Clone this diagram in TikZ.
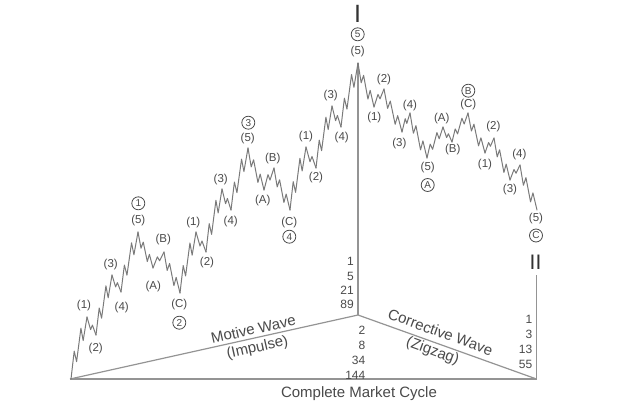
\documentclass[tikz,border=0pt]{standalone}
\usepackage{fontspec}
\setmainfont{Liberation Sans}
\definecolor{labc}{HTML}{4A4A4A}
\definecolor{wavec}{HTML}{7A7A7A}
\definecolor{framec}{HTML}{949494}
\begin{document}
\begin{tikzpicture}[x=1pt,y=-1pt,
 wave/.style={draw=wavec, line width=1pt, line join=round, line cap=round},
 frame/.style={draw=framec, line width=1.2pt},
 lab/.style={text=labc, inner sep=0pt, font=\fontsize{11.5}{11.5}\selectfont},
 circ/.style={draw=labc, circle, line width=0.8pt, inner sep=0pt, minimum size=13pt, text=labc, font=\fontsize{10}{10}\selectfont},
 num/.style={text=labc, inner sep=0pt, align=right},
 big/.style={text=labc, inner sep=0pt, font=\fontsize{15}{15}\selectfont},
 roman/.style={text=black!80, inner sep=0pt}]
\useasboundingbox[fill=white] (0,0) rectangle (640,415);

% frame
\coordinate (BL) at (70,379);
\coordinate (BR) at (536.5,379);
\coordinate (C) at (358,315);
\coordinate (Top) at (358,63);
\coordinate (RT) at (536.5,275);
\draw[frame] (BL) -- (BR);
\draw[frame] (BL) -- (C) -- (BR);
\draw[frame] (C) -- (Top);
\draw[frame] (BR) -- (RT);

% wave
\foreach \x/\y/\t [remember=\x as \px (initially 71), remember=\y as \py (initially 379)] in
 {87/317/5, 96/335/3, 112/275/5, 121/292/3, 138/232/5,
  153/268/5, 164/252/3, 180/293/5,
  196/232/5, 206/252/3, 222/189/5, 231/210/3, 248/148/5,
  264/190/5, 274/168/3, 290/210/5,
  306/147/5, 316/168/3, 332/106/5, 341/127/3, 358/63/5,
  374/107/5, 384/89/3, 402/132/5, 410/113/3, 427/158/5,
  443/127/5, 452/142/3, 468/113/5,
  485/153/5, 494/138/3, 510/180/5, 520/165/3, 537/210/5}
{
  \ifnum\t=5
    \draw[wave] (\px,\py) -- ({\px+0.2*(\x-\px)},{\py+0.45*(\y-\py)})
      -- ({\px+0.35*(\x-\px)},{\py+0.28*(\y-\py)})
      -- ({\px+0.62*(\x-\px)},{\py+0.82*(\y-\py)})
      -- ({\px+0.76*(\x-\px)},{\py+0.62*(\y-\py)})
      -- (\x,\y);
  \else
    \draw[wave] (\px,\py) -- ({\px+0.4*(\x-\px)},{\py+0.7*(\y-\py)})
      -- ({\px+0.6*(\x-\px)},{\py+0.45*(\y-\py)})
      -- (\x,\y);
  \fi
}

% labels, first impulse
\node[lab] (a1) at (84,306) {(1)};
\node[lab] (a2) at (95.7,348.3) {(2)};
\node[lab] (a3) at (110.7,265) {(3)};
\node[lab] (a4) at (121.7,307.3) {(4)};
\node[lab] (a5) at (138.3,220.7) {(5)};
\node[circ] (c1) at (138.3,203.3) {1};
\node[lab] (aA) at (153.3,286.7) {(A)};
\node[lab] (aB) at (163.3,240) {(B)};
\node[lab] (aC) at (179.3,305) {(C)};
\node[circ] (c2) at (179.3,322.7) {2};
% third
\node[lab] (b1) at (193.3,222.7) {(1)};
\node[lab] (b2) at (207,262.7) {(2)};
\node[lab] (b3) at (220.7,180) {(3)};
\node[lab] (b4) at (230.7,221.7) {(4)};
\node[lab] (b5) at (247.7,138.3) {(5)};
\node[circ] (c3) at (248.3,122.7) {3};
\node[lab] (bA) at (262.7,201) {(A)};
\node[lab] (bB) at (272.7,158.3) {(B)};
\node[lab] (bC) at (289.3,222.7) {(C)};
\node[circ] (c4) at (289.3,236.7) {4};
% fifth
\node[lab] (d1) at (306,136.5) {(1)};
\node[lab] (d2) at (316,178) {(2)};
\node[lab] (d3) at (330.7,96) {(3)};
\node[lab] (d4) at (341.7,137.3) {(4)};
\node[lab] (d5) at (357.7,51.7) {(5)};
\node[circ] (c5) at (357.7,34.3) {5};
\node[roman, font=\fontsize{25}{25}\selectfont] (rI) at (357.7,13.5) {I};
% corrective A
\node[lab] (e1) at (374.3,117.3) {(1)};
\node[lab] (e2) at (384,80) {(2)};
\node[lab] (e3) at (399.3,143.3) {(3)};
\node[lab] (e4) at (410,106) {(4)};
\node[lab] (e5) at (427.7,167.3) {(5)};
\node[circ] (cA) at (427.7,185) {A};
% B
\node[lab] (fA) at (441.7,118.3) {(A)};
\node[lab] (fB) at (452.7,150) {(B)};
\node[lab] (fC) at (468.3,105) {(C)};
\node[circ] (cB) at (468.3,90.7) {B};
% C
\node[lab] (g1) at (485,165) {(1)};
\node[lab] (g2) at (493.3,126.7) {(2)};
\node[lab] (g3) at (510,190) {(3)};
\node[lab] (g4) at (519.3,155) {(4)};
\node[lab] (g5) at (536,219) {(5)};
\node[circ] (cC) at (536,235.5) {C};
\node[roman, font=\fontsize{21}{21}\selectfont] (rII) at (535.5,262) {II};

% numbers
\node[num, anchor=north east, font=\fontsize{12}{14.2}\selectfont] (n1) at (354,257.5) {1\\5\\21\\89};
\node[num, anchor=north east, font=\fontsize{12}{15}\selectfont] (n2) at (365.5,325.5) {2\\8\\34\\144};
\node[num, anchor=north east, font=\fontsize{12}{15}\selectfont] (n3) at (532.5,315.5) {1\\3\\13\\55};

% captions
\node[big, rotate=12.7] (mw) at (253.3,329) {Motive Wave};
\node[big, rotate=12.7] (imp) at (257.5,348) {(Impulse)};
\node[big, rotate=-20] (cw) at (440.5,332) {Corrective Wave};
\node[big, rotate=-20] (zz) at (432.5,351.5) {(Zigzag)};
\node[big] (cmc) at (359,393.3) {Complete Market Cycle};
\end{tikzpicture}
\end{document}
